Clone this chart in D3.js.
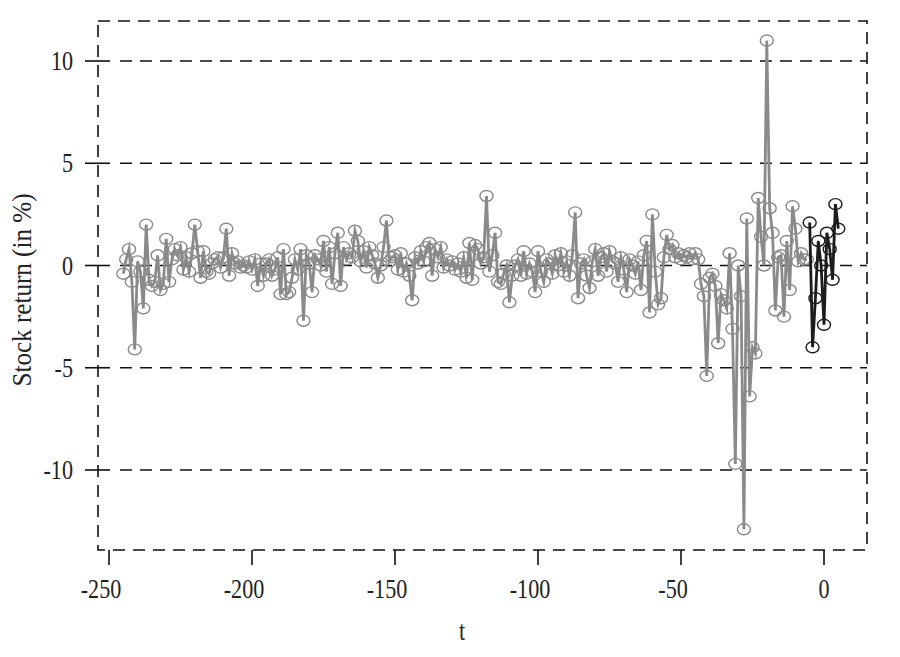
<!DOCTYPE html>
<html>
<head>
<meta charset="utf-8">
<script src="https://cdn.jsdelivr.net/npm/d3@7"></script>
<style>
  body { margin: 0; background: #fff; }
  svg text { font-family: "Liberation Serif", "Times New Roman", serif; fill: #222; }
</style>
</head>
<body>
<div class="chart"></div>
<script>
// estimation window, t = -245 ... -6
var estStart = -245;
var estReturns = [
  -0.4, 0.3, 0.8, -0.8, -4.1, 0.2, -0.3, -2.1, 2.0, -0.7,
  -1.0, -0.8, 0.5, -1.2, -0.9, 1.3, -0.8, 0.3, 0.8, 0.5,
  0.9, -0.2, 0.4, -0.3, 0.6, 2.0, 0.7, -0.6, 0.7, -0.3,
  -0.4, 0.1, 0.3, 0.4, -0.1, 0.4, 1.8, -0.5, 0.6, 0.1,
  0.2, -0.1, 0.0, -0.1, 0.2, -0.2, 0.3, -1.0, 0.1, -0.5,
  0.1, 0.3, -0.5, -0.2, 0.4, -1.4, 0.8, -1.4, -1.3, -0.6,
  0.3, -0.2, 0.8, -2.7, 0.5, 0.1, -1.3, 0.5, 0.3, 0.0,
  1.2, -0.3, 0.9, -0.9, 0.6, 1.6, -1.0, 0.9, 0.3, 0.6,
  0.4, 1.7, 1.2, 0.2, 0.7, -0.1, 0.9, 0.5, 0.1, -0.6,
  0.0, 0.9, 2.2, 0.2, 0.4, 0.5, -0.2, 0.6, -0.3, 0.1,
  -0.5, -1.7, 0.4, 0.1, 0.7, 0.2, 0.9, 1.1, -0.5, 0.8,
  0.4, 0.9, -0.1, 0.3, 0.0, 0.2, -0.2, 0.1, -0.3, 0.4,
  -0.6, 1.1, -0.7, 1.0, 0.8, 0.1, 0.4, 3.4, -0.3, 0.5,
  1.6, -0.8, -0.9, -0.4, 0.0, -1.8, -0.5, 0.0, 0.3, -0.5,
  0.7, -0.4, 0.1, -0.3, -1.3, 0.7, -0.3, -0.8, 0.3, 0.1,
  -0.4, 0.5, 0.0, 0.6, -0.3, 0.2, -0.5, 0.5, 2.6, -1.6,
  0.1, 0.3, -0.5, -1.1, 0.2, 0.8, -0.5, 0.4, 0.6, -0.3,
  0.7, 0.2, 0.1, -0.8, 0.4, -0.2, -1.3, 0.3, 0.0, -0.4,
  0.2, -1.2, 0.5, 1.2, -2.3, 2.5, -0.3, -1.9, -1.6, 0.4,
  1.5, 0.8, 1.0, 0.4, 0.6, 0.3, 0.5, 0.4, 0.6, 0.3,
  0.6, 0.3, -0.9, -1.5, -5.4, -0.6, -0.4, -1.0, -3.8, -1.4,
  -1.7, -2.1, 0.6, -3.1, -9.7, 0.0, -1.5, -12.9, 2.3, -6.4,
  -4.0, -4.3, 3.3, 1.4, 0.0, 11.0, 2.8, 1.6, -2.2, 0.4,
  0.5, -2.5, 1.2, -1.2, 2.9, 1.8, 0.2, 0.6, 0.3, 0.3
];
// event window, t = -5 ... 5
var eventStart = -5;
var eventReturns = [2.1, -4.0, -1.6, 1.2, 0.0, -2.9, 1.6, 0.8, -0.7, 3.0, 1.8];

var xTicks = [-250, -200, -150, -100, -50, 0];
var yTicks = [10, 5, 0, -5, -10];

var estData = estReturns.map(function(v, i) { return {t: estStart + i, r: v}; });
var eventData = eventReturns.map(function(v, i) { return {t: eventStart + i, r: v}; });

var W = 900, H = 657;
var box = {left: 98, right: 867, top: 21, bottom: 550};

var svg = d3.select(".chart").append("svg")
  .attr("width", W)
  .attr("height", H);

var x = d3.scaleLinear().domain([-250, 0]).range([109, 824]);
var y = d3.scaleLinear().domain([-10, 10]).range([470, 61]);

var dash = "12,8";

// frame
svg.append("rect")
  .attr("x", box.left).attr("y", box.top)
  .attr("width", box.right - box.left).attr("height", box.bottom - box.top)
  .attr("fill", "none")
  .attr("stroke", "#111")
  .attr("stroke-width", 1.6)
  .attr("stroke-dasharray", dash);

// horizontal dashed grid
svg.selectAll(".grid")
  .data(yTicks)
  .enter().append("line")
  .attr("class", "grid")
  .attr("x1", box.left + 22).attr("x2", box.right)
  .attr("y1", function(d) { return y(d); })
  .attr("y2", function(d) { return y(d); })
  .attr("stroke", "#111")
  .attr("stroke-width", 1.6)
  .attr("stroke-dasharray", dash);

// y ticks + labels
svg.selectAll(".ytick")
  .data(yTicks)
  .enter().append("line")
  .attr("x1", box.left - 13).attr("x2", box.left + 12)
  .attr("y1", function(d) { return y(d); })
  .attr("y2", function(d) { return y(d); })
  .attr("stroke", "#111")
  .attr("stroke-width", 1.6);

// text in the original is tall and narrow
function label(sel, tx, ty, extra, sx) {
  return sel.attr("transform", "translate(" + tx + "," + ty + ")" + (extra || "") + " scale(" + (sx || 0.82) + ",1)")
    .attr("font-size", 27);
}

svg.selectAll(".ylab")
  .data(yTicks)
  .enter().append("text")
  .each(function(d) { label(d3.select(this), 73, y(d) + 9); })
  .attr("text-anchor", "end")
  .text(function(d) { return d; });

// x ticks + labels
svg.selectAll(".xtick")
  .data(xTicks)
  .enter().append("line")
  .attr("x1", function(d) { return x(d); })
  .attr("x2", function(d) { return x(d); })
  .attr("y1", box.bottom).attr("y2", box.bottom + 15)
  .attr("stroke", "#111")
  .attr("stroke-width", 1.6);

svg.selectAll(".xlab")
  .data(xTicks)
  .enter().append("text")
  .each(function(d) { label(d3.select(this), x(d) - (d < 0 ? 8 : 0), 598); })
  .attr("text-anchor", "middle")
  .text(function(d) { return d; });

label(svg.append("text"), 462, 640)
  .attr("text-anchor", "middle")
  .text("t");

label(svg.append("text"), 31, 290, " rotate(-90)", 0.93)
  .attr("text-anchor", "middle")
  .text("Stock return (in %)");

var line = d3.line()
  .x(function(d) { return x(d.t); })
  .y(function(d) { return y(d.r); });

function drawSeries(data, col) {
  svg.append("path")
    .datum(data)
    .attr("d", line)
    .attr("fill", "none")
    .attr("stroke", col)
    .attr("stroke-width", 2.8)
    .attr("stroke-linejoin", "miter")
    .attr("stroke-miterlimit", 6);

  svg.append("g").selectAll("ellipse")
    .data(data)
    .enter().append("ellipse")
    .attr("cx", function(d) { return x(d.t); })
    .attr("cy", function(d) { return y(d.r); })
    .attr("rx", 6.5)
    .attr("ry", 5.5)
    .attr("fill", "none")
    .attr("stroke", col)
    .attr("stroke-width", 1.4);
}

drawSeries(estData, "#8a8a8a");
drawSeries(eventData, "#1c1c1c");
</script>
</body>
</html>
